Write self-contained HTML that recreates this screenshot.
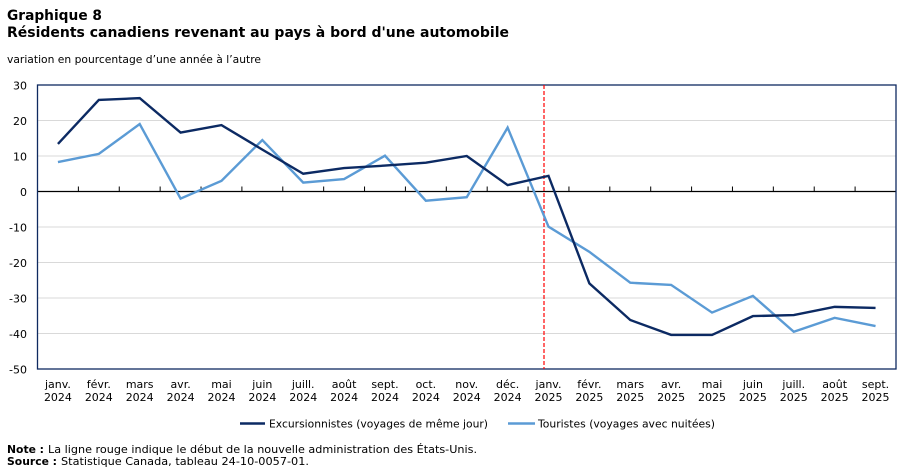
<!DOCTYPE html>
<html><head><meta charset="utf-8"><style>
html,body{margin:0;padding:0;background:#fff;}
svg{display:block;}
text{font-family:"DejaVu Sans","Liberation Sans",sans-serif;fill:#000;}
</style></head><body>
<svg width="908" height="474" viewBox="0 0 908 474" xmlns="http://www.w3.org/2000/svg">
<text x="7" y="20" font-size="14.5" font-weight="bold" textLength="95" lengthAdjust="spacingAndGlyphs">Graphique 8</text>
<text x="7" y="37" font-size="14.5" font-weight="bold" textLength="502" lengthAdjust="spacingAndGlyphs">Résidents canadiens revenant au pays à bord d'une automobile</text>
<text x="7" y="63" font-size="11" textLength="254" lengthAdjust="spacingAndGlyphs">variation en pourcentage d’une année à l’autre</text>

<g stroke="#d9d9d9" stroke-width="1">
<line x1="37.5" x2="896" y1="120.5" y2="120.5"/>
<line x1="37.5" x2="896" y1="156" y2="156"/>
<line x1="37.5" x2="896" y1="227" y2="227"/>
<line x1="37.5" x2="896" y1="262.5" y2="262.5"/>
<line x1="37.5" x2="896" y1="298" y2="298"/>
<line x1="37.5" x2="896" y1="333.5" y2="333.5"/>
</g>
<line x1="37.5" x2="896" y1="191.5" y2="191.5" stroke="#000" stroke-width="1.3"/>
<g stroke="#000" stroke-width="1">
<line x1="78.38" x2="78.38" y1="186.5" y2="191.5"/>
<line x1="119.26" x2="119.26" y1="186.5" y2="191.5"/>
<line x1="160.14" x2="160.14" y1="186.5" y2="191.5"/>
<line x1="201.02" x2="201.02" y1="186.5" y2="191.5"/>
<line x1="241.9" x2="241.9" y1="186.5" y2="191.5"/>
<line x1="282.78" x2="282.78" y1="186.5" y2="191.5"/>
<line x1="323.66" x2="323.66" y1="186.5" y2="191.5"/>
<line x1="364.54" x2="364.54" y1="186.5" y2="191.5"/>
<line x1="405.42" x2="405.42" y1="186.5" y2="191.5"/>
<line x1="446.3" x2="446.3" y1="186.5" y2="191.5"/>
<line x1="487.18" x2="487.18" y1="186.5" y2="191.5"/>
<line x1="528.06" x2="528.06" y1="186.5" y2="191.5"/>
<line x1="568.94" x2="568.94" y1="186.5" y2="191.5"/>
<line x1="609.82" x2="609.82" y1="186.5" y2="191.5"/>
<line x1="650.7" x2="650.7" y1="186.5" y2="191.5"/>
<line x1="691.58" x2="691.58" y1="186.5" y2="191.5"/>
<line x1="732.46" x2="732.46" y1="186.5" y2="191.5"/>
<line x1="773.34" x2="773.34" y1="186.5" y2="191.5"/>
<line x1="814.22" x2="814.22" y1="186.5" y2="191.5"/>
<line x1="855.1" x2="855.1" y1="186.5" y2="191.5"/>
</g>
<rect x="37.5" y="85" width="858.5" height="284" fill="none" stroke="#0f2a60" stroke-width="1.3"/>

<line x1="544" x2="544" y1="85" y2="369" stroke="#ff0000" stroke-width="1.2" stroke-dasharray="4,2"/>

<polyline fill="none" stroke="#5b9bd5" stroke-width="2.4" stroke-linejoin="miter" points="57.94,162.03 98.82,153.87 139.7,124.05 180.58,198.6 221.46,180.85 262.34,140.03 303.22,182.63 344.1,179.08 384.98,155.65 425.86,200.73 466.74,197.18 507.62,127.6 548.5,226.65 589.38,251.85 630.26,282.74 671.14,284.87 712.02,312.56 752.9,295.87 793.78,331.73 834.66,317.88 875.54,326.05"/>
<polyline fill="none" stroke="#0c2a63" stroke-width="2.4" stroke-linejoin="miter" points="57.94,143.93 98.82,99.91 139.7,98.13 180.58,132.57 221.46,125.11 262.34,149.61 303.22,173.75 344.1,168.07 384.98,165.59 425.86,162.74 466.74,156 507.62,185.11 548.5,175.88 589.38,283.45 630.26,320.01 671.14,334.92 712.02,334.92 752.9,316.11 793.78,315.04 834.66,306.88 875.54,307.94"/>

<g font-size="11" text-anchor="end">
<text x="27" y="89.5">30</text>
<text x="27" y="125">20</text>
<text x="27" y="160.5">10</text>
<text x="27" y="196">0</text>
<text x="27" y="231.5">-10</text>
<text x="27" y="267">-20</text>
<text x="27" y="302.5">-30</text>
<text x="27" y="338">-40</text>
<text x="27" y="373.5">-50</text>
</g>

<g font-size="11" text-anchor="middle">
<text x="57.94" y="388">janv.</text><text x="57.94" y="401">2024</text>
<text x="98.82" y="388">févr.</text><text x="98.82" y="401">2024</text>
<text x="139.7" y="388">mars</text><text x="139.7" y="401">2024</text>
<text x="180.58" y="388">avr.</text><text x="180.58" y="401">2024</text>
<text x="221.46" y="388">mai</text><text x="221.46" y="401">2024</text>
<text x="262.34" y="388">juin</text><text x="262.34" y="401">2024</text>
<text x="303.22" y="388">juill.</text><text x="303.22" y="401">2024</text>
<text x="344.1" y="388">août</text><text x="344.1" y="401">2024</text>
<text x="384.98" y="388">sept.</text><text x="384.98" y="401">2024</text>
<text x="425.86" y="388">oct.</text><text x="425.86" y="401">2024</text>
<text x="466.74" y="388">nov.</text><text x="466.74" y="401">2024</text>
<text x="507.62" y="388">déc.</text><text x="507.62" y="401">2024</text>
<text x="548.5" y="388">janv.</text><text x="548.5" y="401">2025</text>
<text x="589.38" y="388">févr.</text><text x="589.38" y="401">2025</text>
<text x="630.26" y="388">mars</text><text x="630.26" y="401">2025</text>
<text x="671.14" y="388">avr.</text><text x="671.14" y="401">2025</text>
<text x="712.02" y="388">mai</text><text x="712.02" y="401">2025</text>
<text x="752.9" y="388">juin</text><text x="752.9" y="401">2025</text>
<text x="793.78" y="388">juill.</text><text x="793.78" y="401">2025</text>
<text x="834.66" y="388">août</text><text x="834.66" y="401">2025</text>
<text x="875.54" y="388">sept.</text><text x="875.54" y="401">2025</text>
</g>

<line x1="240" x2="265" y1="423.5" y2="423.5" stroke="#0c2a63" stroke-width="2.4"/>
<text x="269" y="427.5" font-size="11" textLength="219" lengthAdjust="spacingAndGlyphs">Excursionnistes (voyages de même jour)</text>
<line x1="508" x2="535" y1="423.5" y2="423.5" stroke="#5b9bd5" stroke-width="2.4"/>
<text x="538" y="427.5" font-size="11" textLength="177" lengthAdjust="spacingAndGlyphs">Touristes (voyages avec nuitées)</text>

<text x="7" y="453" font-size="11" font-weight="bold" textLength="37" lengthAdjust="spacingAndGlyphs">Note :</text>
<text x="48" y="453" font-size="11" textLength="429" lengthAdjust="spacingAndGlyphs">La ligne rouge indique le début de la nouvelle administration des États-Unis.</text>
<text x="7" y="465" font-size="11" font-weight="bold" textLength="50" lengthAdjust="spacingAndGlyphs">Source :</text>
<text x="61" y="465" font-size="11" textLength="248" lengthAdjust="spacingAndGlyphs">Statistique Canada, tableau 24-10-0057-01.</text>
</svg>
</body></html>
